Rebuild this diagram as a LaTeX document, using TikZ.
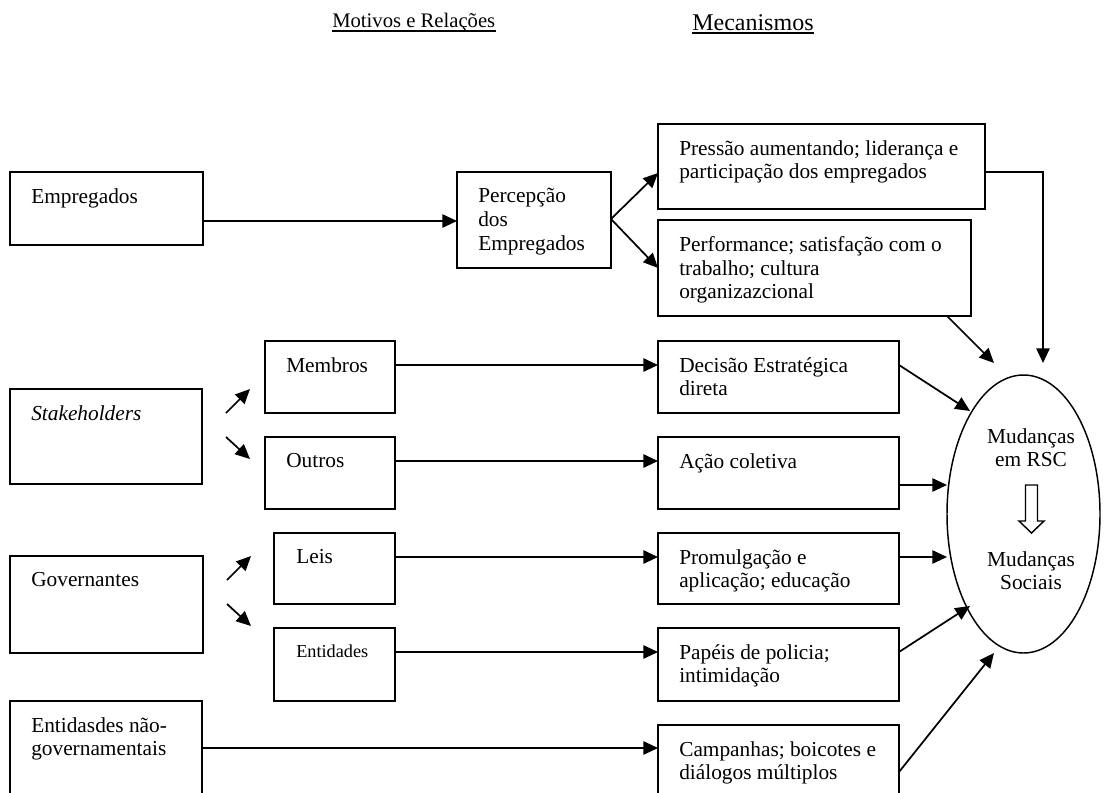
\documentclass[tikz,border=0pt]{standalone}
\usepackage{fontspec}
\setmainfont{Liberation Serif}
\usetikzlibrary{arrows.meta,calc,fit,shapes.geometric}
\tikzset {>={Triangle[length=11pt,width=10pt]}}

\begin{document}
\begin{tikzpicture}[x=0.75pt,y=-0.75pt,
  caixa/.style={draw,line width=1.4pt,inner sep=0pt,outer sep=0pt},
  texto/.style={anchor=north west,inner sep=0pt,align=left,font=\fontsize{16}{17.8}\selectfont},
  seta/.style={->,line width=1.3pt}]
\useasboundingbox (0,0) rectangle (1111,793);
\clip (0,0) rectangle (1111,793);
% titulos
\node[anchor=base west,inner sep=0pt,font=\fontsize{15.5}{18}\selectfont] (motivos) at (332,27) {Motivos e Relações};
\draw[line width=1.4pt] ($(motivos.base west)+(0,4)$) -- ($(motivos.base east)+(0,4)$);
\node[anchor=base west,inner sep=0pt,font=\fontsize{18}{20}\selectfont] (mecan) at (692,30) {Mecanismos};
\draw[line width=1.4pt] ($(mecan.base west)+(0,3)$) -- ($(mecan.base east)+(0,3)$);
% caixas
\node[caixa,fit={(10,172) (203,245)}] (emp) {};
\node[caixa,fit={(457,172) (611,268)}] (perc) {};
\node[caixa,fit={(658,124) (985,209)}] (pres) {};
\node[caixa,fit={(658,220) (971,316)}] (perf) {};
\node[caixa,fit={(265,341) (395,413)}] (memb) {};
\node[caixa,fit={(10,389) (202,484)}] (stak) {};
\node[caixa,fit={(658,341) (899,413)}] (dec) {};
\node[caixa,fit={(265,437) (395,509)}] (outr) {};
\node[caixa,fit={(658,437) (899,509)}] (acao) {};
\node[caixa,fit={(274,533) (395,604)}] (leis) {};
\node[caixa,fit={(10,556) (203,653)}] (gov) {};
\node[caixa,fit={(658,533) (899,604)}] (prom) {};
\node[caixa,fit={(274,628) (395,701)}] (enti) {};
\node[caixa,fit={(658,628) (899,701)}] (pap) {};
\node[caixa,fit={(10,701) (202,820)}] (ong) {};
\node[caixa,fit={(658,725) (899,820)}] (camp) {};
% textos
\node[texto] (empT) at ($(emp.north west)+(21,16)$) {Empregados};
\node[texto] (percT) at ($(perc.north west)+(21,16)$) {Percepção\\dos\\Empregados};
\node[texto] (presT) at ($(pres.north west)+(21,16)$) {Pressão aumentando; liderança e\\participação dos empregados};
\node[texto] (perfT) at ($(perf.north west)+(21,16)$) {Performance; satisfação com o\\trabalho; cultura\\organizazcional};
\node[texto] (membT) at ($(memb.north west)+(21,16)$) {Membros};
\node[texto] (stakT) at ($(stak.north west)+(21,16)$) {\textit{Stakeholders}};
\node[texto] (decT) at ($(dec.north west)+(21,16)$) {Decisão Estratégica\\direta};
\node[texto] (outrT) at ($(outr.north west)+(21,16)$) {Outros};
\node[texto] (acaoT) at ($(acao.north west)+(21,16)$) {Ação coletiva};
\node[texto] (leisT) at ($(leis.north west)+(22,16)$) {Leis};
\node[texto] (govT) at ($(gov.north west)+(21,16)$) {Governantes};
\node[texto] (promT) at ($(prom.north west)+(21,16)$) {Promulgação e\\aplicação; educação};
\node[texto,font=\fontsize{13.7}{16}\selectfont] (entiT) at ($(enti.north west)+(22,16.5)$) {Entidades};
\node[texto] (papT) at ($(pap.north west)+(21,16)$) {Papéis de policia;\\intimidação};
\node[texto] (ongT) at ($(ong.north west)+(21,16)$) {Entidasdes não-\\governamentais};
\node[texto] (campT) at ($(camp.north west)+(21,16)$) {Campanhas; boicotes e\\diálogos múltiplos};
% elipse
\node[draw,ellipse,line width=1.1pt,minimum width=114.75pt,minimum height=208.5pt,inner sep=0pt] (rsc) at (1023.5,514) {};
\node[texto,anchor=north,align=center] (rscA) at (1031,428) {Mudanças\\em RSC};
\node[texto,anchor=north,align=center] (rscB) at (1031,551) {Mudanças\\Sociais};
\draw[line width=1.1pt,fill=white] (1025.5,485) -- (1037.5,485) -- (1037.5,521) -- (1044,521)
  -- (1031.5,533) -- (1019,521) -- (1025.5,521) -- cycle;
% setas
\draw[seta] ($(emp.north east)+(0,49)$) -- ($(perc.north west)+(0,49)$);
\draw[seta] ($(perc.north east)+(0,47)$) -- ($(pres.north west)+(0,49)$);
\draw[seta] ($(perc.north east)+(0,47)$) -- ($(perf.north west)+(0,48)$);
\draw[seta] ($(memb.north east)+(0,24)$) -- ($(dec.north west)+(0,24)$);
\draw[seta] ($(outr.north east)+(0,24)$) -- ($(acao.north west)+(0,24)$);
\draw[seta] ($(leis.north east)+(0,24)$) -- ($(prom.north west)+(0,24)$);
\draw[seta] ($(enti.north east)+(0,24)$) -- ($(pap.north west)+(0,24)$);
\draw[seta] ($(ong.north east)+(0,47)$) -- ($(camp.north west)+(0,23)$);
\foreach \n in {stak,gov} {
  \draw[seta] ($(\n.north east)+(24,24)$) -- +(24,-24);
  \draw[seta] ($(\n.north east)+(24,48)$) -- +(24,22);
}
% setas para a elipse
\draw[seta] ($(pres.north east)+(0,48)$) -| ($(rsc.center)+(19.5,-151)$);
\draw[seta] ($(perf.south east)+(-24,0)$) -- ($(rsc.center)+(-29.5,-151)$);
\draw[seta] ($(dec.north east)+(0,24)$) -- ($(rsc.center)+(-53.5,-103)$);
\draw[seta] ($(acao.north east)+(0,48)$) -- ($(rsc.center)+(-76.5,-29)$);
\draw[seta] ($(prom.north east)+(0,24)$) -- ($(rsc.center)+(-76.5,43)$);
\draw[seta] ($(pap.north east)+(0,24)$) -- ($(rsc.center)+(-53.5,92)$);
\draw[seta] ($(camp.north east)+(0,47)$) -- ($(rsc.center)+(-29.5,139)$);
\end{tikzpicture}
\end{document}
